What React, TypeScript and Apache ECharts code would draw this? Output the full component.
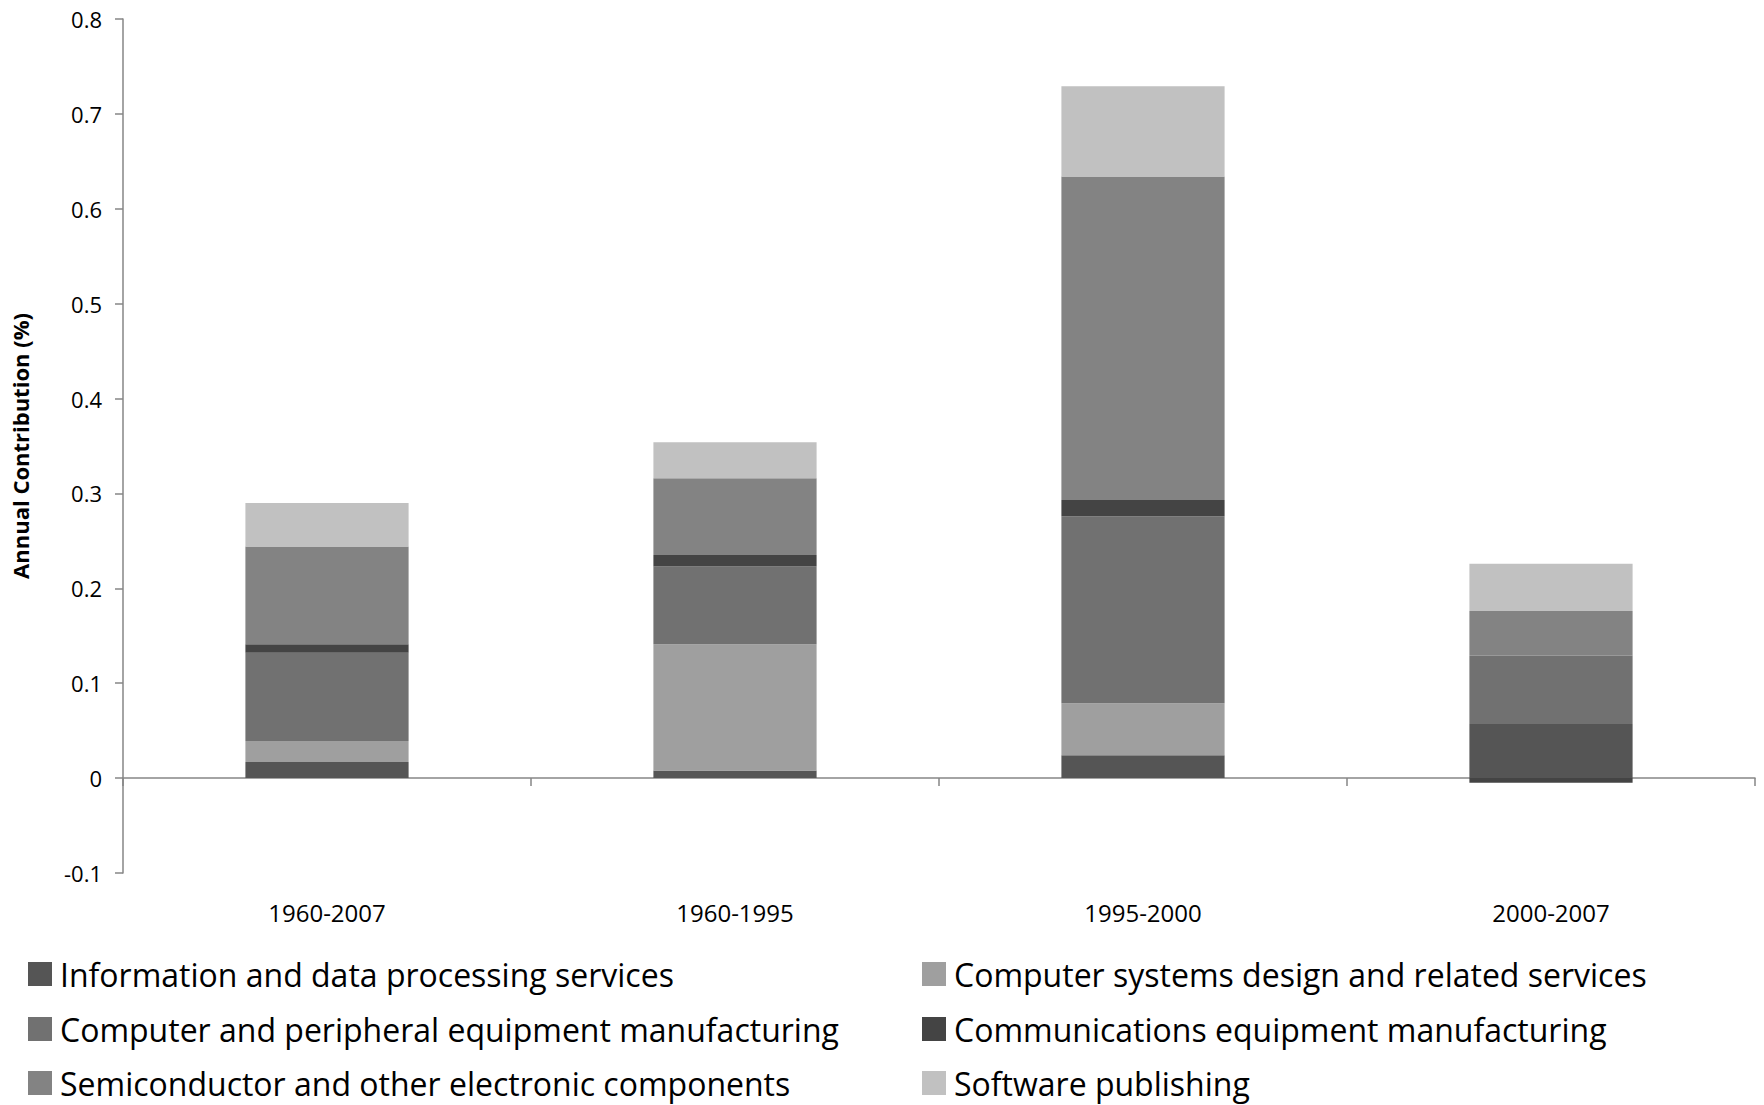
import React, { useEffect, useRef } from "react";
import * as echarts from "echarts";

const categories = ["1960-2007", "1960-1995", "1995-2000", "2000-2007"];
const seriesNames = [
  "Information and data processing services",
  "Computer systems design and related services",
  "Computer and peripheral equipment manufacturing",
  "Communications equipment manufacturing",
  "Semiconductor and other electronic components",
  "Software publishing",
];
const infoData = [0.017, 0.008, 0.024, 0.057];
const systemsData = [0.022, 0.133, 0.055, 0];
const computerData = [0.093, 0.082, 0.197, 0.072];
const commData = [0.009, 0.012, 0.017, -0.005];
const semiData = [0.103, 0.081, 0.341, 0.047];
const softwareData = [0.046, 0.038, 0.095, 0.05];
const seriesColors = ["#555555", "#9f9f9f", "#717171", "#444444", "#838383", "#c1c1c1"];
const allData = [infoData, systemsData, computerData, commData, semiData, softwareData];

const FONT = "Open Sans";

export default function App() {
  const ref = useRef<HTMLDivElement>(null);
  useEffect(() => {
    if (!ref.current) return;
    const chart = echarts.init(ref.current, undefined, { renderer: "svg" });
    const colLeft = [28, 922];
    const rowCenter = [973, 1028, 1082];
    const legends = seriesNames.map((name, i) => ({
      orient: "horizontal",
      left: colLeft[i % 2],
      top: rowCenter[Math.floor(i / 2)] - 15,
      icon: "rect",
      itemWidth: 24,
      itemHeight: 24,
      padding: 0,
      selectedMode: false,
      data: [name],
      textStyle: {
        fontFamily: FONT,
        fontSize: 32,
        color: "#000",
        lineHeight: 30,
        padding: [0, 0, 0, 3],
      },
    }));
    chart.setOption({
      animation: false,
      backgroundColor: "#ffffff",
      grid: { left: 123, right: 9, top: 19, bottom: 232 },
      legend: legends,
      xAxis: [
        {
          type: "category",
          data: categories,
          position: "bottom",
          axisLine: { show: false, onZero: false },
          axisTick: { show: false },
          axisLabel: { fontFamily: FONT, fontSize: 24, color: "#000", margin: 27 },
        },
        {
          type: "category",
          data: categories,
          position: "bottom",
          axisLine: { show: true, onZero: true, lineStyle: { color: "#868686", width: 1.5 } },
          axisTick: { show: true, length: 8, lineStyle: { color: "#868686", width: 1.5 } },
          axisLabel: { show: false },
        },
      ],
      yAxis: {
        type: "value",
        min: -0.1,
        max: 0.8,
        interval: 0.1,
        name: "Annual Contribution (%)",
        nameLocation: "middle",
        nameRotate: 90,
        nameGap: 92,
        nameTextStyle: { fontFamily: FONT, fontSize: 22, fontWeight: "bold", color: "#000" },
        axisLine: { show: true, lineStyle: { color: "#868686", width: 1.5 } },
        axisTick: { show: true, length: 8, lineStyle: { color: "#868686", width: 1.5 } },
        splitLine: { show: false },
        axisLabel: {
          fontFamily: FONT,
          fontSize: 22,
          color: "#000",
          margin: 21,
          formatter: (v: number) => String(Math.round(v * 10) / 10),
        },
      },
      series: seriesNames.map((name, i) => ({
        name,
        type: "bar",
        stack: "total",
        barWidth: "40%",
        xAxisIndex: 0,
        data: allData[i],
        itemStyle: { color: seriesColors[i] },
      })),
    });
    return () => chart.dispose();
  }, []);
  return (
    <div
      ref={ref}
      style={{ position: "fixed", left: 0, top: 0, width: 1764, height: 1105 }}
    />
  );
}
